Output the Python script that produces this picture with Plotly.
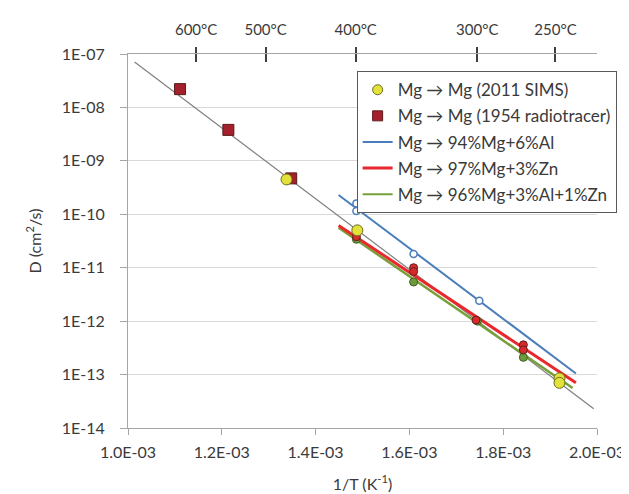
import plotly.graph_objects as go

# ---- data ----
fit_x = [1.014e-3, 1.993e-3]
fit_D = [7.1e-8, 2.3e-14]

radio_x = [1.111e-3, 1.214e-3, 1.348e-3]
radio_D = [2.2e-8, 3.8e-9, 4.7e-10]

sims_x = [1.338e-3, 1.489e-3, 1.920e-3, 1.920e-3]
sims_D = [4.5e-10, 5.0e-11, 8.5e-14, 7.0e-14]

al6_x = [1.487e-3, 1.487e-3, 1.609e-3, 1.749e-3]
al6_D = [1.6e-10, 1.15e-10, 1.8e-11, 2.4e-12]
al6_fit_x = [1.449e-3, 1.955e-3]
al6_fit_D = [2.3e-10, 1.05e-13]

zn3_x = [1.487e-3, 1.609e-3, 1.609e-3, 1.742e-3, 1.843e-3, 1.843e-3]
zn3_D = [3.8e-11, 1.0e-11, 8.5e-12, 1.05e-12, 3.6e-13, 2.9e-13]
zn3_fit_x = [1.449e-3, 1.955e-3]
zn3_fit_D = [6.2e-11, 7.0e-14]

az_x = [1.487e-3, 1.609e-3, 1.745e-3, 1.843e-3]
az_D = [3.4e-11, 5.4e-12, 1.0e-12, 2.1e-13]
az_fit_x = [1.449e-3, 1.948e-3]
az_fit_D = [5.6e-11, 5.6e-14]

y_tick_vals = [1e-7, 1e-8, 1e-9, 1e-10, 1e-11, 1e-12, 1e-13, 1e-14]
y_tick_text = ["1E-07", "1E-08", "1E-09", "1E-10", "1E-11", "1E-12", "1E-13", "1E-14"]
x_tick_vals = [1.0e-3, 1.2e-3, 1.4e-3, 1.6e-3, 1.8e-3, 2.0e-3]
x_tick_text = ["1.0E-03", "1.2E-03", "1.4E-03", "1.6E-03", "1.8E-03", "2.0E-03"]
top_C = [600, 500, 400, 300, 250]
top_text = ["600°C", "500°C", "400°C", "300°C", "250°C"]

top_vals = [1.0 / (c + 273.15) for c in top_C]

FONT = "Lato"
TXT = "#3A3A3A"
AX = "#A6A6A6"

fig = go.Figure()

fig.add_trace(go.Scatter(x=fit_x, y=fit_D, mode="lines",
                         line=dict(color="#7F7F7F", width=1.2), showlegend=False))
fig.add_trace(go.Scatter(x=al6_fit_x, y=al6_fit_D, mode="lines",
                         line=dict(color="#4A7EBB", width=2), showlegend=False))
fig.add_trace(go.Scatter(x=az_fit_x, y=az_fit_D, mode="lines",
                         line=dict(color="#77A03A", width=2.5), showlegend=False))
fig.add_trace(go.Scatter(x=zn3_fit_x, y=zn3_fit_D, mode="lines",
                         line=dict(color="#E8282C", width=3), showlegend=False))

fig.add_trace(go.Scatter(x=az_x, y=az_D, mode="markers", showlegend=False,
                         marker=dict(symbol="circle", size=8, color="#6E9A3C",
                                     line=dict(color="#3F5F20", width=1))))
fig.add_trace(go.Scatter(x=zn3_x, y=zn3_D, mode="markers", showlegend=False,
                         marker=dict(symbol="circle", size=8, color="#D92A2A",
                                     line=dict(color="#602020", width=1))))
fig.add_trace(go.Scatter(x=al6_x, y=al6_D, mode="markers", showlegend=False,
                         marker=dict(symbol="circle", size=7, color="white",
                                     line=dict(color="#4A7EBB", width=1.5))))
fig.add_trace(go.Scatter(x=radio_x, y=radio_D, mode="markers", showlegend=False,
                         marker=dict(symbol="square", size=11, color="#A3202C",
                                     line=dict(color="#5A1A1A", width=1))))
fig.add_trace(go.Scatter(x=sims_x, y=sims_D, mode="markers", showlegend=False,
                         marker=dict(symbol="circle", size=11, color="#E2E23A",
                                     line=dict(color="#6B6B1E", width=1))))

# legend entries
leg_font = dict(family=FONT, size=17, color=TXT)
fig.add_trace(go.Scatter(x=[None], y=[None], mode="markers", name="Mg → Mg (2011 SIMS)",
                         legendgroup="a",
                         marker=dict(symbol="circle", size=10, color="#E2E23A",
                                     line=dict(color="#6B6B1E", width=1))))
fig.add_trace(go.Scatter(x=[None], y=[None], mode="markers", name="Mg → Mg (1954 radiotracer)",
                         legendgroup="b",
                         marker=dict(symbol="square", size=10, color="#A3202C",
                                     line=dict(color="#5A1A1A", width=1))))
fig.add_trace(go.Scatter(x=[None], y=[None], mode="lines", name="Mg → 94%Mg+6%Al",
                         legendgroup="c", line=dict(color="#4A7EBB", width=2)))
fig.add_trace(go.Scatter(x=[None], y=[None], mode="lines", name="Mg → 97%Mg+3%Zn",
                         legendgroup="d", line=dict(color="#E8282C", width=3)))
fig.add_trace(go.Scatter(x=[None], y=[None], mode="lines", name="Mg → 96%Mg+3%Al+1%Zn",
                         legendgroup="e", line=dict(color="#77A03A", width=2)))

# dummy traces to anchor top axes
fig.add_trace(go.Scatter(x=top_vals, y=[1e-7] * len(top_vals), xaxis="x2", mode="lines",
                         line=dict(width=0), hoverinfo="skip", showlegend=False))
fig.add_trace(go.Scatter(x=top_vals, y=[1e-7] * len(top_vals), xaxis="x3", mode="lines",
                         line=dict(width=0), hoverinfo="skip", showlegend=False))

xr = [1.0e-3, 2.0e-3]
fig.update_layout(
    width=629, height=494,
    margin=dict(l=120, r=30, t=35, b=69),
    paper_bgcolor="white", plot_bgcolor="white",
    font=dict(family=FONT, size=16, color=TXT),
    showlegend=True,
    legend=dict(x=0.4875, y=0.954, xanchor="left", yanchor="top",
                bgcolor="white", bordercolor="#595959", borderwidth=1,
                font=leg_font, tracegroupgap=1, itemwidth=30),
    xaxis=dict(range=xr, tickvals=x_tick_vals, ticktext=x_tick_text,
               showgrid=False, zeroline=False, showline=True, linecolor=AX, linewidth=1,
               ticks="outside", ticklen=6, tickcolor=AX, ticklabelstandoff=4,
               tickfont=dict(family=FONT, size=16, color=TXT),
               title=dict(text="1/T (K<sup>-1</sup>)", font=dict(family=FONT, size=16, color=TXT),
                          standoff=18)),
    xaxis2=dict(range=xr, overlaying="x", side="top", tickvals=top_vals, ticktext=top_text,
                showgrid=False, zeroline=False, showline=True, linecolor=AX,
                ticks="outside", ticklen=6, tickcolor="#404040", tickwidth=1.5,
                ticklabelstandoff=6,
                tickfont=dict(family=FONT, size=15, color=TXT)),
    xaxis3=dict(range=xr, overlaying="x", side="top", tickvals=top_vals, showticklabels=False,
                showgrid=False, zeroline=False, showline=False,
                ticks="inside", ticklen=8, tickcolor="#404040", tickwidth=1.5),
    yaxis=dict(type="log", range=[-14, -7], tickvals=y_tick_vals, ticktext=y_tick_text,
               showgrid=True, gridcolor="#D9D9D9", gridwidth=1.2, zeroline=False,
               showline=True, linecolor=AX, linewidth=1,
               ticks="outside", ticklen=7, tickcolor=AX, ticklabelstandoff=12,
               tickfont=dict(family=FONT, size=16, color=TXT),
               title=dict(text="D (cm<sup>2</sup>/s)", font=dict(family=FONT, size=16, color=TXT),
                          standoff=16)),
)

fig.write_html("out.html")
